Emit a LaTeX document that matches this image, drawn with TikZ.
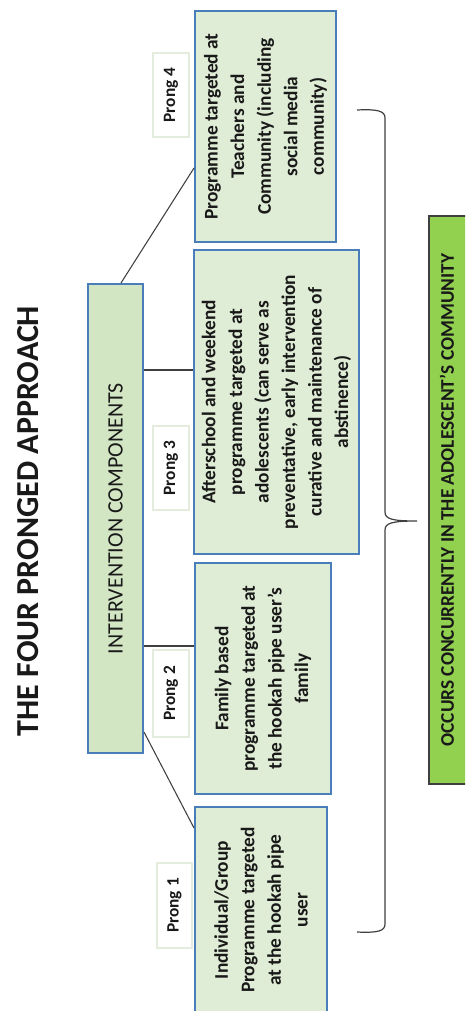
\documentclass[tikz,border=0pt]{standalone}
\usepackage{fontspec}
\setmainfont{Carlito}
\usetikzlibrary{calc}
\definecolor{boxblue}{HTML}{4A7EBB}
\definecolor{palegreen}{HTML}{E0EDD6}
\definecolor{icgreen}{HTML}{D2E6C4}
\definecolor{brightgreen}{HTML}{92D050}
\definecolor{lblborder}{HTML}{E4ECDD}
\definecolor{linegray}{HTML}{3F3F3F}
\begin{document}
\begin{tikzpicture}[x=0.75pt,y=-0.75pt,
  prongbox/.style={draw=boxblue, line width=1.5pt, fill=palegreen, inner sep=0pt},
  icbox/.style={draw=boxblue, line width=1.5pt, fill=icgreen, inner sep=0pt},
  lblbox/.style={draw=lblborder, line width=0.8pt, fill=white, inner sep=0pt},
  occbox/.style={draw=linegray, line width=1.1pt, fill=brightgreen, inner sep=0pt},
  txt/.style={rotate=90, align=center, inner sep=0pt, text=black!90, font=\bfseries\fontsize{14.5}{19.9}\selectfont},
  lbltxt/.style={rotate=90, inner sep=0pt, text=black!90, font=\bfseries\fontsize{13}{15}\selectfont},
  conn/.style={draw=linegray, line width=0.8pt}]
\useasboundingbox (0,0) rectangle (465,1011);
\clip (0,0) rectangle (465,1011);

% title
\node[rotate=90, inner sep=0pt, text=black!90, font=\bfseries\fontsize{24}{28}\selectfont] (title) at (28,521) {THE FOUR PRONGED APPROACH};

% intervention components
\node[icbox, minimum width=41.25pt, minimum height=351.75pt] (ic) at (115.5,518.5) {};
\node[rotate=90, inner sep=0pt, text=black!90, font=\fontsize{16.5}{19}\selectfont] (ict) at (ic.center) {INTERVENTION COMPONENTS};

% prong boxes
\node[prongbox, minimum width=105.75pt, minimum height=173.25pt] (p4) at (265.5,126.5) {};
\node[txt] (p4t) at (p4.center) {Programme targeted at\\Teachers and\\Community (including\\social media\\community)};

\node[prongbox, minimum width=123.75pt, minimum height=228pt] (p3) at (276.5,402) {};
\node[txt] (p3t) at (p3.center) {Afterschool and weekend\\programme targeted at\\adolescents (can serve as\\preventative, early intervention\\curative and maintenance of\\abstinence)};

\node[prongbox, minimum width=102pt, minimum height=173.25pt] (p2) at (263,678.5) {};
\node[txt] (p2t) at (p2.center) {Family based\\programme targeted at\\the hookah pipe user’s\\family};

\node[prongbox, minimum width=99pt, minimum height=154.5pt] (p1) at (261,910) {};
\node[txt] (p1t) at (p1.center) {Individual/Group\\Programme targeted\\at the hookah pipe\\user};

% prong labels
\node[lblbox, minimum width=27pt, minimum height=63pt] (l4) at (171,95) {};
\node[lbltxt] (l4t) at (l4.center) {Prong 4};
\node[lblbox, minimum width=27pt, minimum height=63pt] (l3) at (171,468) {};
\node[lbltxt] (l3t) at (l3.center) {Prong 3};
\node[lblbox, minimum width=27pt, minimum height=65.25pt] (l2) at (171,693.5) {};
\node[lbltxt] (l2t) at (l2.center) {Prong 2};
\node[lblbox, minimum width=26.25pt, minimum height=63.75pt] (l1) at (174.5,905.5) {};
\node[lbltxt] (l1t) at (l1.center) {Prong 1};

% connectors
\coordinate (c4) at ($(ic.north west)+(34,0)$);
\draw[conn] (c4) -- (p4.west |- 0,168);
\draw[conn] (ic.east |- 0,370) -- (p3.west |- 0,370);
\draw[conn] (ic.east |- 0,646) -- (p2.west |- 0,646);
\draw[conn] (ic.east |- 0,732) -- (p1.west |- 0,828);

% brace
\coordinate (bt) at (357,110);
\coordinate (bb) at (357,932);
\coordinate (tip) at (417,521);
\draw[draw=linegray, line width=0.9pt]
  (bt) .. controls (378,109) and (385,111) .. (385,118)
  -- (385,512) .. controls (385,519) and (392,521) .. (tip)
  (tip) .. controls (392,521) and (385,523) .. (385,530)
  -- (385,924) .. controls (385,931) and (378,933) .. (bb);

% concurrency box
\node[occbox, minimum width=38.25pt, minimum height=426pt] (occ) at (454.5,500) {};
\node[rotate=90, inner sep=0pt, text=black!90, font=\bfseries\fontsize{14.5}{17}\selectfont] (occt) at (447,500) {OCCURS CONCURRENTLY IN THE ADOLESCENT’S COMMUNITY};
\end{tikzpicture}
\end{document}
